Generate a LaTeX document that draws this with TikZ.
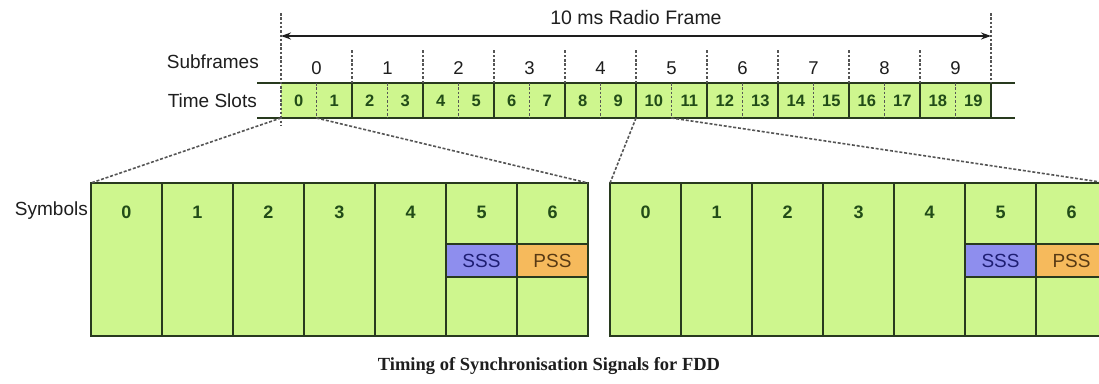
\documentclass[tikz,border=0pt]{standalone}
\usepackage{fontspec}
\setmainfont{Liberation Sans}
\newfontfamily\captionserif{Liberation Serif}
\usetikzlibrary{arrows.meta,calc}

\definecolor{cellgreen}{RGB}{206,246,142}
\definecolor{cellline}{RGB}{40,58,30}
\definecolor{digitgreen}{RGB}{34,76,24}
\definecolor{dashgray}{RGB}{85,85,85}
\definecolor{sssfill}{RGB}{142,142,238}
\definecolor{ssstext}{RGB}{30,30,115}
\definecolor{pssfill}{RGB}{246,186,92}
\definecolor{psstext}{RGB}{88,58,20}
\definecolor{labeltext}{RGB}{30,30,30}

\tikzset{
  slotcell/.style={fill=cellgreen, minimum width=35.5pt, minimum height=35pt,
    inner sep=0pt, outer sep=0pt, text=digitgreen,
    font=\fontsize{16.5}{16.5}\selectfont\bfseries},
  symcell/.style={draw=cellline, line width=1.9pt, fill=cellgreen,
    minimum width=71pt, minimum height=153pt, inner sep=0pt, outer sep=0pt},
  symnum/.style={text=digitgreen, font=\fontsize{18}{18}\selectfont\bfseries, inner sep=0pt},
  syncbox/.style={draw=cellline, line width=1.9pt, minimum width=71pt,
    minimum height=33pt, inner sep=0pt, outer sep=0pt,
    font=\fontsize{19}{19}\selectfont},
  sssbox/.style={syncbox, fill=sssfill, text=ssstext},
  pssbox/.style={syncbox, fill=pssfill, text=psstext},
  rowlabel/.style={text=labeltext, font=\fontsize{19}{19}\selectfont, inner sep=0pt},
  sflabel/.style={text=labeltext, font=\fontsize{18.5}{18.5}\selectfont, inner sep=0pt},
  rowline/.style={draw=cellline, line width=1.8pt},
  divline/.style={draw=dashgray, line width=1.4pt, dash pattern=on 2.5pt off 1.8pt},
  zoomline/.style={draw=dashgray, line width=1.6pt, dash pattern=on 3pt off 1.8pt},
}

\begin{document}
\begin{tikzpicture}[x=1pt, y=-1pt]
\clip (0,0) rectangle (1099,383);
\fill[white] (0,0) rectangle (1099,383);

% time slots of the radio frame
\foreach \i in {0,...,19}
  \node[slotcell] (s\i) at ({281+35.5*(\i+0.5)},100.5) {\i};

% row borders
\draw[rowline] ($(s0.north west)+(-24,0)$) -- ($(s19.north east)+(24,0)$);
\draw[rowline] ($(s0.south west)+(-24,0)$) -- ($(s19.south east)+(24,0)$);
\foreach \k in {2,4,...,18} {
  \draw[rowline] (s\k.north west) -- (s\k.south west);
  \draw[divline] (s\k.north west) -- ++(0,-33);
}
\draw[rowline] (s19.north east) -- (s19.south east);
\foreach \k in {1,3,...,19}
  \draw[divline] (s\k.north west) -- (s\k.south west);

% subframe numbers
\foreach \k in {0,...,9} {
  \pgfmathtruncatemacro\a{2*\k}
  \pgfmathtruncatemacro\b{2*\k+1}
  \node[sflabel] (sf\k) at ($(s\a.center)!0.5!(s\b.center)+(0,-32.5)$) {\k};
}

% frame limits and frame-length arrow
\coordinate (fl) at ($(s0.north west)+(0,-70)$);
\coordinate (fr) at ($(s19.north east)+(0,-70)$);
\coordinate (flb) at ($(s0.south west)+(0,8)$);
\draw[divline] (fl) -- (flb);
\draw[divline] (fr) -- (s19.north east);
\coordinate (al) at ($(fl)+(0,23)$);
\coordinate (ar) at ($(fr)+(0,23)$);
\draw[line width=1.6pt, draw=labeltext,
  {Stealth[length=10pt,width=7pt]}-{Stealth[length=10pt,width=7pt]}] (al) -- (ar);
\node[rowlabel, font=\fontsize{19.5}{19.5}\selectfont] (frame) at ($(fl)!0.5!(fr)+(0,5)$) {10 ms Radio Frame};

% row captions
\node[rowlabel, anchor=east] (sublbl) at (259,62) {Subframes};
\node[rowlabel, anchor=east] (slotlbl) at (257,101) {Time Slots};

% symbols of slot 0
\foreach \i in {0,...,6} {
  \node[symcell] (L\i) at ({91+71*(\i+0.5)},259.5) {};
  \node[symnum] (Ln\i) at ($(L\i.north)+(0,29)$) {\i};
}
\node[sssbox] (Lsss) at ($(L5.north)+(0,77.5)$) {SSS};
\node[pssbox] (Lpss) at ($(L6.north)+(0,77.5)$) {PSS};

% symbols of slot 10
\foreach \i in {0,...,6} {
  \node[symcell] (R\i) at ({610+71*(\i+0.5)},259.5) {};
  \node[symnum] (Rn\i) at ($(R\i.north)+(0,29)$) {\i};
}
\node[sssbox] (Rsss) at ($(R5.north)+(0,77.5)$) {SSS};
\node[pssbox] (Rpss) at ($(R6.north)+(0,77.5)$) {PSS};

\node[rowlabel, anchor=east] (symlbl) at (88,211) {Symbols};

% expansion of slots 0 and 10
\draw[zoomline] (s0.south west) -- (L0.north west);
\draw[zoomline] (s0.south east) -- (L6.north east);
\draw[zoomline] (s10.south west) -- (R0.north west);
\draw[zoomline] (s10.south east) -- (R6.north east);

% caption
\node[font=\captionserif\bfseries\fontsize{18.5}{18.5}\selectfont, text=labeltext] (cap)
  at (549,366) {Timing of Synchronisation Signals for FDD};
\end{tikzpicture}
\end{document}
